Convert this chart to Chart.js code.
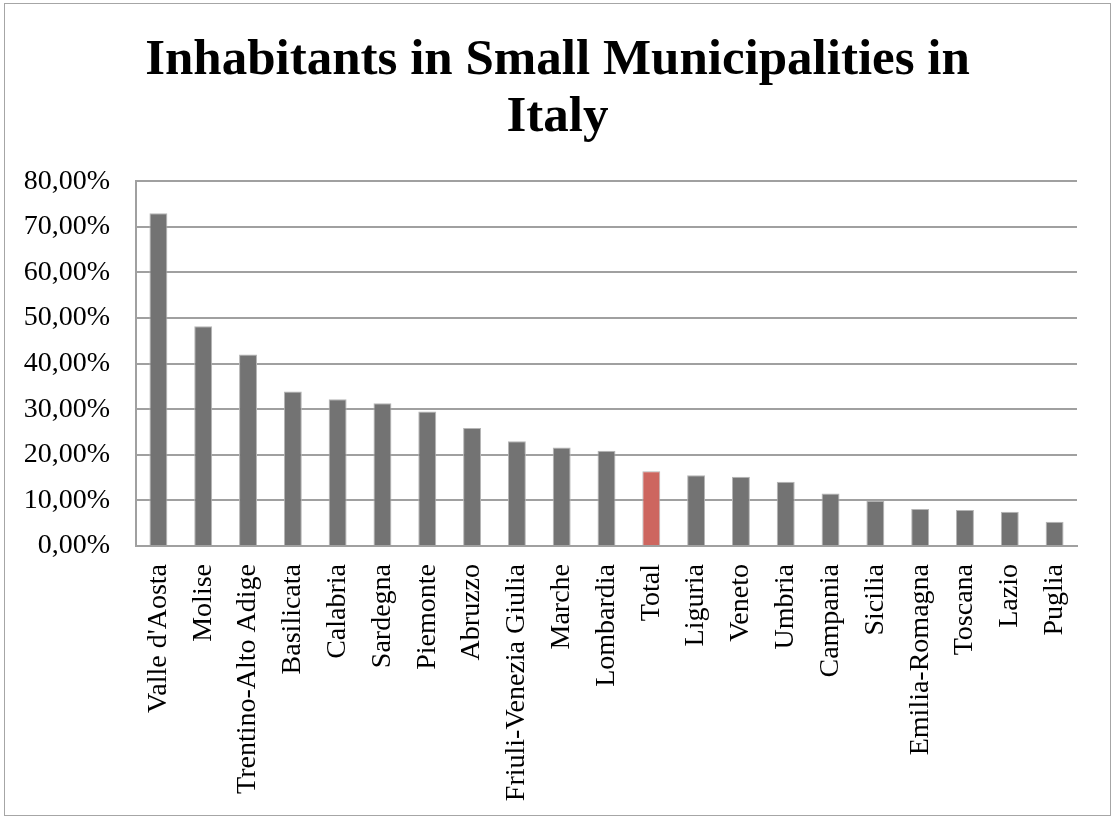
<!DOCTYPE html>
<html>
<head>
<meta charset="utf-8">
<script src="https://cdn.jsdelivr.net/npm/chart.js@4.4.0/dist/chart.umd.min.js"></script>
<style>
  body { margin: 0; background: #fff; }
  #box {
    position: absolute; left: 4px; top: 3px;
    width: 1105px; height: 811px;
    border: 1px solid #a6a6a6;
  }
</style>
</head>
<body>
<div id="box"><canvas id="myChart"></canvas></div>
<script>
// dati
const regioni = [
  "Valle d'Aosta", "Molise", "Trentino-Alto Adige", "Basilicata", "Calabria",
  "Sardegna", "Piemonte", "Abruzzo", "Friuli-Venezia Giulia", "Marche",
  "Lombardia", "Total", "Liguria", "Veneto", "Umbria", "Campania",
  "Sicilia", "Emilia-Romagna", "Toscana", "Lazio", "Puglia"
];
const percentuali = [
  73.0, 48.2, 42.0, 33.9, 32.2, 31.3, 29.5, 25.9, 23.0, 21.6,
  20.9, 16.4, 15.5, 15.2, 14.1, 11.5, 9.9, 8.1, 7.9, 7.5, 5.3
];
const yTicks = [0, 10, 20, 30, 40, 50, 60, 70, 80];

const grigio = "#737373";
const rosso = "#cd665f";

const ctx = document.getElementById("myChart");

new Chart(ctx, {
  type: "bar",
  data: {
    labels: regioni,
    datasets: [
      {
        label: "Inhabitants",
        data: percentuali,
        backgroundColor: regioni.map((r) => (r === "Total" ? rosso : grigio)),
        borderColor: "#b5b5b5",
        borderWidth: 1,
        barPercentage: 0.4,
        categoryPercentage: 1,
      },
    ],
  },
  options: {
    responsive: true,
    maintainAspectRatio: false,
    animation: false,
    layout: { padding: { left: 15, right: 15, top: 0, bottom: 0 } },
    scales: {
      x: {
        grid: { display: false, drawTicks: true, tickLength: 8 },
        border: { display: true, color: "#a0a0a0", width: 2 },
        ticks: {
          color: "#000",
          minRotation: 90,
          maxRotation: 90,
          padding: 10,
          autoSkip: false,
          font: { family: "Liberation Serif", size: 28 },
        },
        afterFit: (scale) => { scale.height = 269; },
      },
      y: {
        min: 0,
        max: 80,
        afterBuildTicks: (scale) => {
          scale.ticks = yTicks.map((v) => ({ value: v }));
        },
        grid: { color: "#a0a0a0", lineWidth: 2, drawTicks: false },
        border: { display: true, color: "#a0a0a0", width: 2 },
        ticks: {
          color: "#000",
          padding: 26,
          font: { family: "Liberation Serif", size: 28 },
          callback: (v) => v.toFixed(2).replace(".", ",") + "%",
        },
        afterFit: (scale) => { scale.width = 116; },
      },
      // asse vuoto a destra, serve solo a tenere il titolo centrato
      yRight: {
        type: "linear",
        position: "right",
        grid: { display: false, drawTicks: false },
        border: { display: false },
        ticks: { display: false },
        afterFit: (scale) => { scale.width = 18; },
      },
    },
    plugins: {
      legend: { display: false },
      tooltip: { enabled: false },
      title: {
        display: true,
        text: ["Inhabitants in Small Municipalities in", "Italy"],
        color: "#000",
        font: { family: "Liberation Serif", size: 51, weight: "bold", lineHeight: 1.12 },
        padding: { top: 28, bottom: 35 },
      },
    },
  },
});
</script>
</body>
</html>
